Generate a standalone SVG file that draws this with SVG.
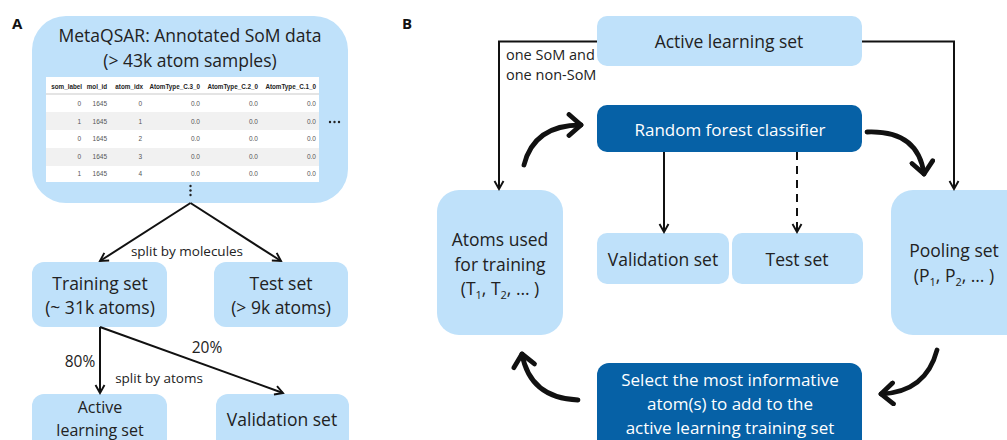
<svg xmlns="http://www.w3.org/2000/svg" width="1007" height="440" viewBox="0 0 1007 440">
  <style>
    .lt { fill: #bfe1fa; }
    .dk { fill: #0661a6; }
    .lbl { font-family: "Open Sans", "Liberation Sans", sans-serif; font-size: 17.5px; fill: #222; text-anchor: middle; }
    .lbl2 { font-family: "Open Sans", "Liberation Sans", sans-serif; font-size: 16px; fill: #222; text-anchor: middle; }
    .wl { font-family: "Open Sans", "Liberation Sans", sans-serif; font-size: 17px; fill: #ffffff; text-anchor: middle; }
    .sm { font-family: "Open Sans", "Liberation Sans", sans-serif; font-size: 13.5px; fill: #222; text-anchor: middle; }
    .pct { font-family: "Open Sans", "Liberation Sans", sans-serif; font-size: 15.5px; fill: #222; text-anchor: middle; }
    .note { font-family: "Open Sans", "Liberation Sans", sans-serif; font-size: 14.5px; fill: #222; }
    .panel { font-family: "Open Sans", "Liberation Sans", sans-serif; font-size: 15px; font-weight: bold; fill: #111; }
    .th { font-family: "Liberation Sans", Arial, sans-serif; font-size: 6.3px; font-weight: bold; fill: #222; text-anchor: end; }
    .td { font-family: "Liberation Sans", Arial, sans-serif; font-size: 6.5px; fill: #555; text-anchor: end; }
    .sub { font-size: 11px; }
    .ln { fill: none; stroke: #111; stroke-width: 2; }
    .thick { fill: none; stroke: #111; stroke-width: 4.8; stroke-linecap: round; }
  </style>
  <defs>
    <marker id="arr" viewBox="0 0 12 12" refX="10" refY="6" markerWidth="12" markerHeight="12" markerUnits="userSpaceOnUse" orient="auto">
      <path d="M2,1.5 L10,6 L2,10.5" fill="none" stroke="#111" stroke-width="1.9" stroke-linejoin="miter"/>
    </marker>
    <marker id="big" viewBox="0 0 22 26" refX="17" refY="13" markerWidth="22" markerHeight="26" markerUnits="userSpaceOnUse" orient="auto">
      <path d="M5,2.5 L17,13 L5,23.5" fill="none" stroke="#111" stroke-width="4.8" stroke-linecap="round" stroke-linejoin="round"/>
    </marker>
  </defs>

  <rect width="1007" height="440" fill="#ffffff"/>

  <!-- panel letters -->
  <text class="panel" x="12" y="29">A</text>
  <text class="panel" x="402" y="29">B</text>

  <!-- ===== Panel A ===== -->
  <g id="metaqsar">
    <rect class="lt" x="32" y="16" width="316" height="187" rx="34"/>
    <text class="lbl" x="190" y="42">MetaQSAR: Annotated SoM data</text>
    <text class="lbl" x="190" y="67">(&gt; 43k atom samples)</text>
    <!-- data table -->
    <rect x="46" y="77" width="273" height="105" fill="#ffffff"/>
    <rect x="46" y="112" width="273" height="18" fill="#f1f1f1"/>
    <rect x="46" y="148" width="273" height="18" fill="#f1f1f1"/>
    <line x1="46" y1="94" x2="319" y2="94" stroke="#bbb" stroke-width="0.8"/>
    <g class="th">
      <text x="82" y="88.5">som_label</text>
      <text x="107" y="88.5">mol_id</text>
      <text x="143" y="88.5">atom_idx</text>
      <text x="200" y="88.5">AtomType_C.3_0</text>
      <text x="258" y="88.5">AtomType_C.2_0</text>
      <text x="316" y="88.5">AtomType_C.1_0</text>
    </g>
    <g class="td">
      <text x="81" y="105.5">0</text><text x="107" y="105.5">1645</text><text x="142" y="105.5">0</text><text x="200" y="105.5">0.0</text><text x="258" y="105.5">0.0</text><text x="316" y="105.5">0.0</text>
      <text x="81" y="123.5">1</text><text x="107" y="123.5">1645</text><text x="142" y="123.5">1</text><text x="200" y="123.5">0.0</text><text x="258" y="123.5">0.0</text><text x="316" y="123.5">0.0</text>
      <text x="81" y="141">0</text><text x="107" y="141">1645</text><text x="142" y="141">2</text><text x="200" y="141">0.0</text><text x="258" y="141">0.0</text><text x="316" y="141">0.0</text>
      <text x="81" y="158.5">0</text><text x="107" y="158.5">1645</text><text x="142" y="158.5">3</text><text x="200" y="158.5">0.0</text><text x="258" y="158.5">0.0</text><text x="316" y="158.5">0.0</text>
      <text x="81" y="175.5">1</text><text x="107" y="175.5">1645</text><text x="142" y="175.5">4</text><text x="200" y="175.5">0.0</text><text x="258" y="175.5">0.0</text><text x="316" y="175.5">0.0</text>
    </g>
    <!-- more columns / more rows -->
    <g fill="#222">
      <circle cx="330" cy="122" r="1.2"/><circle cx="334.5" cy="122" r="1.2"/><circle cx="339" cy="122" r="1.2"/>
      <circle cx="190.5" cy="186" r="1.2"/><circle cx="190.5" cy="190.5" r="1.2"/><circle cx="190.5" cy="195" r="1.2"/>
    </g>
  </g>

  <g id="training-set">
    <rect class="lt" x="32" y="262" width="135" height="65" rx="12"/>
    <text class="lbl" x="100" y="290">Training set</text>
    <text class="lbl" x="100" y="314">(~ 31k atoms)</text>
  </g>

  <g id="test-set-a">
    <rect class="lt" x="214" y="262" width="134" height="65" rx="12"/>
    <text class="lbl" x="281" y="290">Test set</text>
    <text class="lbl" x="281" y="314">(&gt; 9k atoms)</text>
  </g>

  <g id="active-learning-set-a">
    <rect class="lt" x="32" y="394" width="135" height="66" rx="12"/>
    <text class="lbl2" x="100" y="413">Active</text>
    <text class="lbl2" x="100" y="436">learning set</text>
  </g>

  <g id="validation-set-a">
    <rect class="lt" x="216" y="394" width="133" height="66" rx="12"/>
    <text class="lbl" x="282" y="426">Validation set</text>
  </g>

  <!-- ===== Panel B ===== -->
  <g id="active-learning-set-b">
    <rect class="lt" x="597" y="16" width="265" height="50" rx="10"/>
    <text class="lbl" x="729" y="47.5">Active learning set</text>
  </g>

  <g id="random-forest">
    <rect class="dk" x="597" y="105" width="265" height="47" rx="10"/>
    <text class="wl" x="730" y="136">Random forest classifier</text>
  </g>

  <g id="atoms-used">
    <rect class="lt" x="437" y="190" width="126" height="145" rx="22"/>
    <text class="lbl" x="500" y="246">Atoms used</text>
    <text class="lbl" x="500" y="271">for training</text>
    <text class="lbl" x="500" y="295">(T<tspan class="sub" dy="4">1</tspan><tspan dy="-4">, T</tspan><tspan class="sub" dy="4">2</tspan><tspan dy="-4">, … )</tspan></text>
  </g>

  <g id="validation-set-b">
    <rect class="lt" x="597" y="233" width="132" height="51" rx="10"/>
    <text class="lbl" x="663" y="266">Validation set</text>
  </g>

  <g id="test-set-b">
    <rect class="lt" x="732" y="233" width="131" height="51" rx="10"/>
    <text class="lbl" x="797" y="266">Test set</text>
  </g>

  <g id="pooling-set">
    <rect class="lt" x="891" y="190" width="140" height="145" rx="22"/>
    <text class="lbl" x="954" y="257">Pooling set</text>
    <text class="lbl" x="954" y="282">(P<tspan class="sub" dy="4">1</tspan><tspan dy="-4">, P</tspan><tspan class="sub" dy="4">2</tspan><tspan dy="-4">, … )</tspan></text>
  </g>

  <g id="select-informative">
    <rect class="dk" x="597" y="363" width="265" height="92" rx="12"/>
    <text class="wl" x="730" y="386">Select the most informative</text>
    <text class="wl" x="730" y="410">atom(s) to add to the</text>
    <text class="wl" x="730" y="434">active learning training set</text>
  </g>

  <!-- connectors -->
  <g id="connectors">
    <!-- panel A splits -->
    <path class="ln" d="M190.5,203 L100,261" marker-end="url(#arr)"/>
    <path class="ln" d="M190.5,203 L281,261" marker-end="url(#arr)"/>
    <path class="ln" d="M100,327 V393" marker-end="url(#arr)"/>
    <path class="ln" d="M100,327 L283,393" marker-end="url(#arr)"/>
    <text class="sm" x="187" y="256">split by molecules</text>
    <text class="pct" x="80" y="367">80%</text>
    <text class="pct" x="207" y="353">20%</text>
    <text class="sm" x="159" y="383">split by atoms</text>

    <!-- panel B sampling -->
    <path class="ln" d="M597,41.5 H499 V189" marker-end="url(#arr)"/>
    <path class="ln" d="M862,41.5 H954 V189" marker-end="url(#arr)"/>
    <text class="note" x="506" y="60">one SoM and</text>
    <text class="note" x="506" y="80">one non-SoM</text>

    <!-- classifier evaluation -->
    <path class="ln" d="M664,152 V232" marker-end="url(#arr)"/>
    <path class="ln" d="M797,152 V232" stroke-dasharray="8 6" marker-end="url(#arr)"/>

    <!-- learning cycle -->
    <path class="thick" d="M524,165 Q534,125 581,125" marker-end="url(#big)"/>
    <path class="thick" d="M867,132 Q918,130 924,174" marker-end="url(#big)"/>
    <path class="thick" d="M937,350 Q926,392 881,394" marker-end="url(#big)"/>
    <path class="thick" d="M578,400 Q530,398 522,354" marker-end="url(#big)"/>
  </g>
</svg>
